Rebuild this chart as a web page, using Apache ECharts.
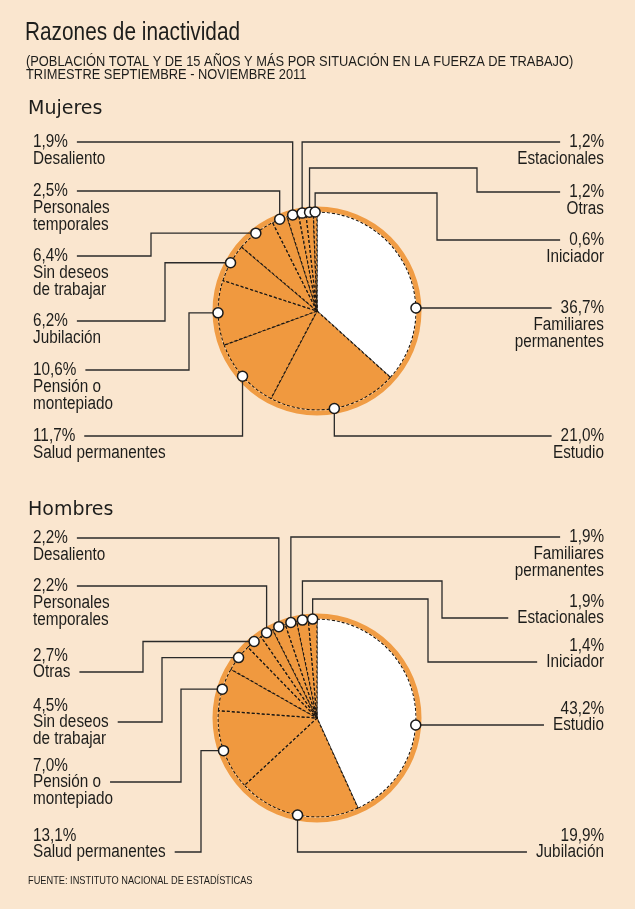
<!DOCTYPE html>
<html>
<head>
<meta charset="utf-8">
<script src="https://cdn.jsdelivr.net/npm/echarts@6/dist/echarts.min.js"></script>
<style>
html,body{margin:0;padding:0;background:#FAE6CF;}
#chart{width:635px;height:909px;}
</style>
</head>
<body>
<div id="chart"></div>
<script>
// datos: porcentajes (orden horario desde las 12)
const mujeresRazones = ['Familiares\npermanentes', 'Estudio', 'Salud permanentes', 'Pensión o\nmontepiado', 'Jubilación',
  'Sin deseos\nde trabajar', 'Personales\ntemporales', 'Desaliento', 'Estacionales', 'Otras', 'Iniciador']
const mujeresPct = [36.7, 21.0, 11.7, 10.6, 6.2, 6.4, 2.5, 1.9, 1.2, 1.2, 0.6]

const hombresRazones = ['Estudio', 'Jubilación', 'Salud permanentes', 'Pensión o\nmontepiado', 'Sin deseos\nde trabajar',
  'Otras', 'Personales\ntemporales', 'Desaliento', 'Familiares\npermanentes', 'Estacionales', 'Iniciador']
const hombresPct = [43.2, 19.9, 13.1, 7.0, 4.5, 2.7, 2.2, 2.2, 1.9, 1.9, 1.4]

// colores y medidas
const FONDO = '#FAE6CF'
const NARANJA = '#F0993F'
const ANILLO = '#F09C44'
const TEXTO = '#1d1d1b'
const LINEA = '#2a2a2a'
const R = 99
const mujeresCentro = [317, 311]
const hombresCentro = [317, 718]
const FS = 18, ESC = 0.85, LH = 16.7, GAP = 9
const X_IZQ = 33, X_DER = 604

// posicion de cada etiqueta (mismo orden que las categorias)
// y: altura de la linea, line: renglon de la etiqueta al que llega la linea
const mujeresEtiquetas = [
  {side:'right', y:308, line:0, fila:true},
  {side:'right', y:436, line:0},
  {side:'left', y:436, line:0},
  {side:'left', y:370, line:0, elbow:189},
  {side:'left', y:321, line:0, elbow:165},
  {side:'left', y:256, line:0, elbow:151},
  {side:'left', y:191, line:0},
  {side:'left', y:142, line:0},
  {side:'right', y:142, line:0},
  {side:'right', y:192, line:0, rise:168, elbow:477},
  {side:'right', y:240, line:0, rise:193, elbow:437}
]
const hombresEtiquetas = [
  {side:'right', y:725, line:1, fila:true},
  {side:'right', y:852, line:1},
  {side:'left', y:852, line:1, elbow:201},
  {side:'left', y:782, line:1, elbow:181},
  {side:'left', y:722, line:1, elbow:162},
  {side:'left', y:672, line:1, elbow:143},
  {side:'left', y:586, line:0},
  {side:'left', y:538, line:0},
  {side:'right', y:537, line:0},
  {side:'right', y:618, line:1, rise:581, elbow:442},
  {side:'right', y:662, line:1, rise:599, elbow:428}
]

const chart = echarts.init(document.getElementById('chart'))

function pieSeries(centro, nombres, valores){
  return {
    type:'pie',
    center:centro,
    radius:R,
    startAngle:90,
    clockwise:true,
    silent:true,
    animation:false,
    label:{show:false},
    labelLine:{show:false},
    itemStyle:{borderColor:'#1a1612', borderWidth:1.2, borderType:[3, 2]},
    data:nombres.map((n, i) => ({
      name:n,
      value:valores[i],
      itemStyle:{color:i === 0 ? '#ffffff' : NARANJA}
    }))
  }
}

function anilloSeries(centro){
  return {
    type:'pie',
    center:centro,
    radius:[R + 0.6, R + 5.5],
    silent:true,
    animation:false,
    label:{show:false},
    labelLine:{show:false},
    data:[{value:1, itemStyle:{color:ANILLO}}]
  }
}

function titulo(text, x, y, fs, family, esc){
  return {
    type:'text', x:x, y:y, scaleX:esc || 1, silent:true,
    style:{text:text, fill:TEXTO, font:fs + 'px ' + family, align:'left', verticalAlign:'middle'}
  }
}

chart.setOption({
  backgroundColor:FONDO,
  animation:false,
  grid:{left:0, right:0, top:0, bottom:0},
  xAxis:{type:'value', min:0, max:635, show:false},
  yAxis:{type:'value', min:0, max:909, inverse:true, show:false},
  series:[
    pieSeries(mujeresCentro, mujeresRazones, mujeresPct),
    anilloSeries(mujeresCentro),
    pieSeries(hombresCentro, hombresRazones, hombresPct),
    anilloSeries(hombresCentro)
  ]
})

const ctx = document.createElement('canvas').getContext('2d')
function ancho(t){
  ctx.font = FS + 'px "Liberation Sans"'
  return ctx.measureText(t).width * ESC
}

function pct(v){
  return v.toFixed(1).replace('.', ',') + '%'
}

// angulos de cada porcion segun el layout del propio pie
function angulos(seriesIndex, valores){
  try {
    const d = chart.getModel().getSeriesByIndex(seriesIndex).getData()
    return valores.map((v, i) => {
      const l = d.getItemLayout(i)
      return (l.startAngle + l.endAngle) / 2
    })
  } catch (e) {
    const total = valores.reduce((a, b) => a + b, 0)
    let acc = -Math.PI / 2
    return valores.map(v => {
      const a = v / total * Math.PI * 2
      const m = acc + a / 2
      acc += a
      return m
    })
  }
}

const rutas = []
const puntos = []
const textos = [
  titulo('Razones de inactividad', 25, 33, 26, '"Liberation Sans"', 0.8),
  titulo('(POBLACIÓN TOTAL Y DE 15 AÑOS Y MÁS POR SITUACIÓN EN LA FUERZA DE TRABAJO)', 26, 62, 14, '"Liberation Sans"', 0.918),
  titulo('TRIMESTRE SEPTIEMBRE - NOVIEMBRE 2011', 26, 75.5, 14, '"Liberation Sans"', 0.918),
  titulo('Mujeres', 28, 109, 19, '"DejaVu Sans"'),
  titulo('Hombres', 28, 510.5, 19, '"DejaVu Sans"'),
  titulo('FUENTE: INSTITUTO NACIONAL DE ESTADÍSTICAS', 28, 881, 11, '"Liberation Sans"', 0.84)
]

function armar(seriesIndex, centro, nombres, valores, etiquetas){
  const mids = angulos(seriesIndex, valores)
  nombres.forEach((n, i) => {
    const L = etiquetas[i]
    let dot
    if (L.fila) {
      const dy = L.y - centro[1]
      dot = [centro[0] + Math.sqrt(R * R - dy * dy), L.y]
    } else {
      dot = [centro[0] + R * Math.cos(mids[i]), centro[1] + R * Math.sin(mids[i])]
    }
    const lineas = [pct(valores[i])].concat(n.split('\n'))
    const w = ancho(lineas[L.line])
    const ax = L.side === 'left' ? X_IZQ + w + GAP : X_DER - w - GAP
    let ruta
    if (L.rise != null) {
      ruta = [dot, [dot[0], L.rise], [L.elbow, L.rise], [L.elbow, L.y], [ax, L.y]]
    } else if (L.elbow != null) {
      ruta = [dot, [L.elbow, dot[1]], [L.elbow, L.y], [ax, L.y]]
    } else {
      ruta = [dot, [dot[0], L.y], [ax, L.y]]
    }
    rutas.push({coords:ruta})
    puntos.push(dot)
    textos.push({
      type:'text',
      x:L.side === 'left' ? X_IZQ : X_DER,
      y:L.y - (L.line + 0.5) * LH + 0.5,
      scaleX:ESC,
      silent:true,
      style:{
        text:lineas.join('\n'),
        fill:TEXTO,
        font:FS + 'px "Liberation Sans"',
        lineHeight:LH,
        align:L.side === 'left' ? 'left' : 'right',
        verticalAlign:'top'
      }
    })
  })
}

armar(0, mujeresCentro, mujeresRazones, mujeresPct, mujeresEtiquetas)
armar(2, hombresCentro, hombresRazones, hombresPct, hombresEtiquetas)

chart.setOption({
  series:[
    {}, {}, {}, {},
    {
      type:'lines',
      coordinateSystem:'cartesian2d',
      polyline:true,
      silent:true,
      z:3,
      lineStyle:{color:LINEA, width:1.3, opacity:1},
      data:rutas
    },
    {
      type:'scatter',
      coordinateSystem:'cartesian2d',
      silent:true,
      z:4,
      symbol:'circle',
      symbolSize:10,
      itemStyle:{color:'#ffffff', borderColor:'#1a1a1a', borderWidth:1.5, opacity:1},
      data:puntos
    }
  ],
  graphic:textos
})
</script>
</body>
</html>
